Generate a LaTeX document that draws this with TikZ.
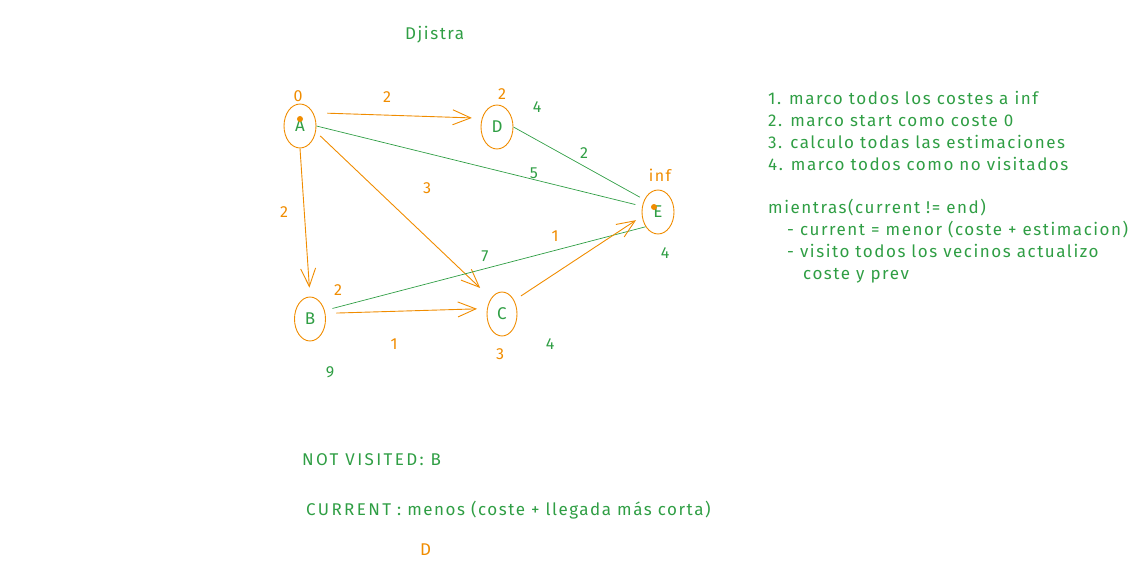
\documentclass[tikz,border=0pt]{standalone}
\usepackage{fontspec}
\setmainfont{Fira Sans}
\newfontfamily\handfont[LetterSpace=9]{Fira Sans}
\newfontfamily\capsfont[LetterSpace=14]{Fira Sans}
\usetikzlibrary{shapes.geometric,arrows.meta}
\definecolor{exor}{HTML}{F08C00}
\definecolor{exgr}{HTML}{2F9E44}
\tikzset{
  vert/.style={ellipse,draw=exor,line width=0.9pt,minimum width=32pt,minimum height=44pt,inner sep=0pt,text=exgr,font=\handfont\fontsize{17}{18}\selectfont},
  oarr/.style={draw=exor,line width=0.9pt,-{Straight Barb[length=18pt,width=15pt]}},
  gline/.style={draw=exgr,line width=0.7pt},
  olab/.style={text=exor,font=\handfont\fontsize{16}{18}\selectfont,inner sep=0pt},
  glab/.style={text=exgr,font=\handfont\fontsize{16}{18}\selectfont,inner sep=0pt},
  gtext/.style={text=exgr,font=\handfont\fontsize{17}{21.7}\selectfont,inner sep=0pt,anchor=base west,align=left},
  odot/.style={circle,fill=exor,inner sep=0pt,minimum size=6pt}
}
\begin{document}
\begin{tikzpicture}[x=1pt,y=-1pt]
\useasboundingbox (0,0) rectangle (1132,575);
\node[gtext] (title) at (405,40) {Djistra};
% vertices
\node[vert] (A) at (300,126) {A};
\node[vert] (D) at (497,127) {D};
\node[vert] (E) at (658,212) {E};
\node[vert,minimum width=31pt] (B) at (310,319) {B};
\node[vert,minimum width=30pt] (C) at (502,314) {C};
\node[odot] (dA) at (300,119) {};
\node[odot] (dE) at (654,207) {};
% edges
\draw[oarr,shorten <=14pt,shorten >=10pt] (A.45) -- (D.150);
\draw[oarr,shorten >=9pt] (A.south) -- (B.north);
\draw[oarr,shorten <=6pt,shorten >=15pt] (A.-20) -- (C.125);
\draw[gline,shorten >=7pt] (A.east) -- (E.160);
\draw[gline,shorten >=5pt] (D.east) -- (E.138);
\draw[gline,shorten <=8pt] (B.30) -- (E.-130);
\draw[oarr,shorten <=11pt,shorten >=10pt] (B.20) -- (C.160);
\draw[oarr,shorten <=8pt,shorten >=7pt] (C.48) -- (E.195);
% labels
\node[olab] (l0) at (298,96) {0};
\node[olab] (lAD) at (387,97) {2};
\node[olab] (lD) at (502,94) {2};
\node[glab] (lD4) at (537,107) {4};
\node[glab] (lDE) at (584,153) {2};
\node[glab] (lAE) at (534,173) {5};
\node[olab] (lE) at (660,175) {inf};
\node[olab] (lAC) at (427,188) {3};
\node[olab] (lAB) at (284,212) {2};
\node[olab] (lCE) at (555,236) {1};
\node[glab] (lBE) at (485,256) {7};
\node[glab] (lE4) at (665,253) {4};
\node[olab] (lB) at (338,290) {2};
\node[olab] (lBC) at (394,344) {1};
\node[glab] (lC4) at (550,344) {4};
\node[olab] (lC) at (500,354) {3};
\node[glab] (lB9) at (330,372) {9};
% right text (anchored at last baseline)
\node[gtext] (steps) at (768,170) {1. marco todos los costes a inf\\2. marco start como coste 0\\3. calculo todas las estimaciones\\4. marco todos como no visitados};
\node[gtext] (loop) at (768,279) {mientras(current != end)\\\hspace*{19pt}- current = menor (coste + estimacion)\\\hspace*{19pt}- visito todos los vecinos actualizo\\\hspace*{35pt}coste y prev};
% bottom text
\node[gtext,font=\capsfont\fontsize{17}{21.7}\selectfont] (nv) at (302,465) {NOT VISITED: B};
\node[gtext] (cur) at (306,515) {{\capsfont CURRENT} : menos (coste + llegada más corta)};
\node[gtext,text=exor] (dd) at (420,555) {D};
\end{tikzpicture}
\end{document}
